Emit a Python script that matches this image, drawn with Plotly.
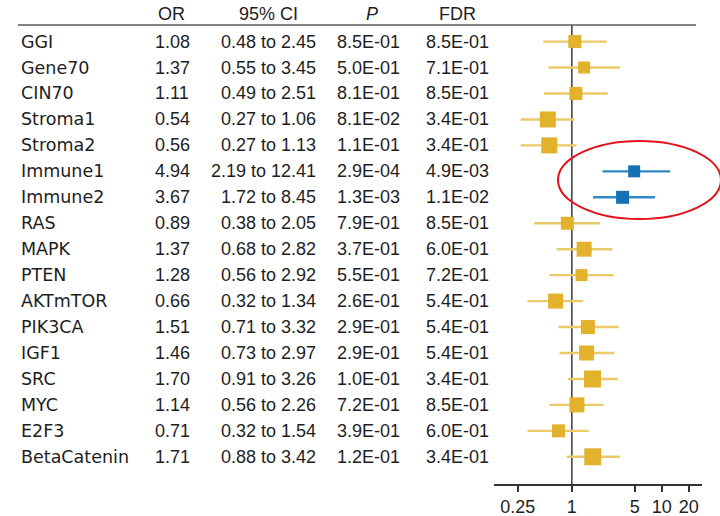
import plotly.graph_objects as go
import math

names = ["GGI", "Gene70", "CIN70", "Stroma1", "Stroma2", "Immune1", "Immune2", "RAS",
         "MAPK", "PTEN", "AKTmTOR", "PIK3CA", "IGF1", "SRC", "MYC", "E2F3", "BetaCatenin"]
odds = [1.08, 1.37, 1.11, 0.54, 0.56, 4.94, 3.67, 0.89, 1.37, 1.28, 0.66, 1.51, 1.46, 1.70, 1.14, 0.71, 1.71]
ci_low = [0.48, 0.55, 0.49, 0.27, 0.27, 2.19, 1.72, 0.38, 0.68, 0.56, 0.32, 0.71, 0.73, 0.91, 0.56, 0.32, 0.88]
ci_high = [2.45, 3.45, 2.51, 1.06, 1.13, 12.41, 8.45, 2.05, 2.82, 2.92, 1.34, 3.32, 2.97, 3.26, 2.26, 1.54, 3.42]
p_text = ["8.5E-01", "5.0E-01", "8.1E-01", "8.1E-02", "1.1E-01", "2.9E-04", "1.3E-03", "7.9E-01",
          "3.7E-01", "5.5E-01", "2.6E-01", "2.9E-01", "2.9E-01", "1.0E-01", "7.2E-01", "3.9E-01", "1.2E-01"]
fdr_text = ["8.5E-01", "7.1E-01", "8.5E-01", "3.4E-01", "3.4E-01", "4.9E-03", "1.1E-02", "8.5E-01",
            "6.0E-01", "7.2E-01", "5.4E-01", "5.4E-01", "5.4E-01", "3.4E-01", "8.5E-01", "6.0E-01", "3.4E-01"]
highlight = ["Immune1", "Immune2"]
tick_vals = [0.25, 1, 5, 10, 20]
tick_text = ["0.25", "1", "5", "10", "20"]

# style
marker_side = [13, 12, 13, 16, 16, 12, 13, 13, 15, 12, 15, 14, 15, 17, 15, 13, 17]
W, H = 720, 516
FONT = "Liberation Sans, Arial, sans-serif"
NAME_FONT = "DejaVu Sans, Liberation Sans, sans-serif"
TXT = "#1e1e1e"
GOLD, GOLD_LINE = "#E2B22C", "#EACA68"
BLUE, BLUE_LINE = "#1670B2", "#3089C4"

fig = go.Figure()

for i, n in enumerate(names):
    hi = n in highlight
    fig.add_trace(go.Scatter(
        x=[odds[i]], y=[i], mode="markers",
        marker=dict(symbol="square", size=marker_side[i], color=BLUE if hi else GOLD,
                    line=dict(width=0)),
        error_x=dict(type="data", symmetric=False,
                     array=[ci_high[i] - odds[i]], arrayminus=[odds[i] - ci_low[i]],
                     color=BLUE_LINE if hi else GOLD_LINE, thickness=2.4, width=0),
        showlegend=False, hoverinfo="skip"))

def px(x):
    return x / W

def py(y):
    return 1 - y / H

row0, dy = 41.6, 25.95
top_px, axis_px = 25.0, 484.0
y_top = (top_px - row0) / dy
y_bot = (axis_px - row0) / dy

ann = []
hdr_y = py(14)
for txt, xc in [("OR", 171), ("95% CI", 268), ("<i>P</i>", 372), ("FDR", 457)]:
    ann.append(dict(text=txt, x=px(xc), y=hdr_y, xref="paper", yref="paper",
                    xanchor="center", yanchor="middle", showarrow=False,
                    font=dict(family=FONT, size=18, color=TXT)))
for i, n in enumerate(names):
    common = dict(y=i, xref="paper", yref="y", yanchor="middle", showarrow=False)
    f = dict(family=FONT, size=18, color=TXT)
    ann.append(dict(text=n, x=px(19), xanchor="left", font=dict(family=NAME_FONT, size=17.5, color=TXT), **common))
    ann.append(dict(text=f"{odds[i]:.2f}", x=px(172), xanchor="center", font=f, **common))
    ann.append(dict(text=f"{ci_low[i]:.2f} to {ci_high[i]:.2f}", x=px(318), xanchor="right", font=f, **common))
    ann.append(dict(text=p_text[i], x=px(368), xanchor="center", font=f, **common))
    ann.append(dict(text=fdr_text[i], x=px(457), xanchor="center", font=f, **common))

shapes = [
    dict(type="line", xref="paper", yref="paper", x0=px(18), x1=px(696), y0=py(top_px), y1=py(top_px),
         line=dict(color="#5a5a5a", width=1.6)),
    dict(type="line", xref="x", yref="paper", x0=1, x1=1, y0=py(top_px), y1=py(axis_px),
         line=dict(color="#444444", width=1.6), layer="below"),
    dict(type="circle", xref="paper", yref="paper", x0=px(558), x1=px(721), y0=py(219), y1=py(141),
         line=dict(color="#E3131B", width=2)),
]

fig.update_layout(
    width=W, height=H,
    margin=dict(l=0, r=0, t=0, b=0),
    paper_bgcolor="white", plot_bgcolor="white",
    annotations=ann, shapes=shapes,
    xaxis=dict(type="log", domain=[px(494), px(702)],
               range=[math.log10(0.136), math.log10(28.1)],
               showgrid=False, zeroline=False, showline=True, linecolor="#333333", linewidth=1.6,
               ticks="outside", ticklen=6, tickwidth=1.6, tickcolor="#333333",
               tickvals=tick_vals, ticktext=tick_text,
               tickfont=dict(family=FONT, size=18, color=TXT)),
    yaxis=dict(domain=[py(axis_px), py(top_px)], range=[y_bot, y_top],
               showgrid=False, zeroline=False, showline=False, showticklabels=False, ticks=""),
)

fig.write_html("out.html", config={"displayModeBar": False},
               post_script="document.body.style.margin='0';document.body.style.overflow='hidden';")
